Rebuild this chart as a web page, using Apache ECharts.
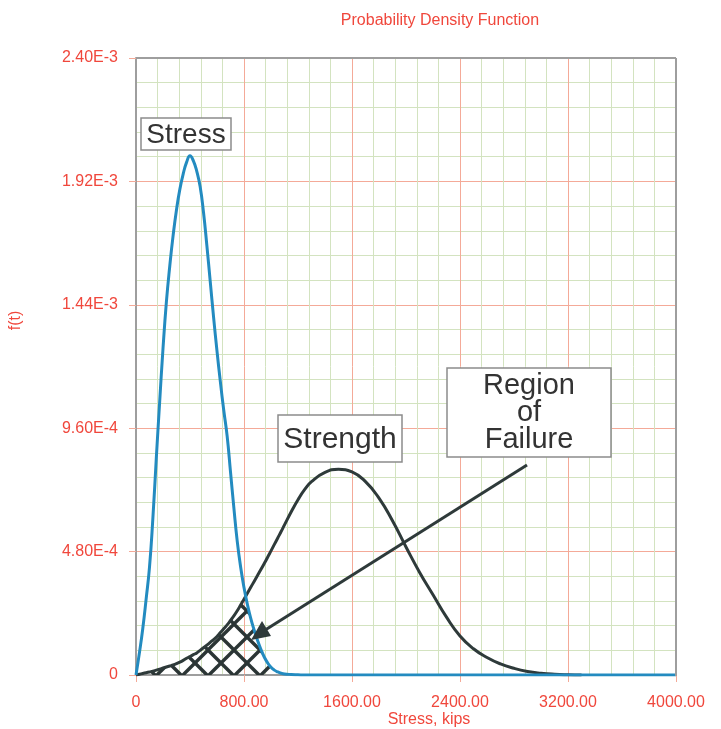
<!DOCTYPE html>
<html>
<head>
<meta charset="utf-8">
<script src="https://cdn.jsdelivr.net/npm/echarts@6/dist/echarts.min.js"></script>
<style>html,body{margin:0;padding:0;background:#fff}#c{width:721px;height:729px}</style>
</head>
<body>
<div id="c"></div>
<script>
// Shared x positions (Stress, kips)
const xValues = [0,25,50,75,100,125,150,175,200,225,250,275,300,325,350,375,400,425,450,475,500,525,550,575,600,625,650,675,700,725,750,775,800,825,850,875,900,925,950,975,1000,1025,1050,1075,1100,
  1150,1200,1250,1300,1400,1500,1600,1700,1800,1900,2000,2100,2200,2300,2400,2500,2600,2700,2800,2900,3000,3100,3200,3300,3400,3600,3800,4000];
// Stress pdf values (units of 1e-4)
const stressValues = [0,0.85,1.8,2.95,4.2,6.1,8.4,10.6,12.7,14.5,15.9,17.1,18.1,18.9,19.5,19.95,20.2,20.0,19.6,19.0,18.0,16.7,15.3,13.9,12.6,11.4,10.3,9.3,7.9,6.5,5.2,4.2,3.4,2.75,2.2,1.75,1.35,1.0,0.7,0.47,0.3,0.19,0.12,0.07,0.04,
  0.02,0.01,0,0,0,0,0,0,0,0,0,0,0,0,0,0,0,0,0,0,0,0,0,0,0,0,0,0];
// Strength pdf values (units of 1e-4); null = not drawn
const strengthValues = [0,0.03,0.06,0.09,0.12,0.15,0.19,0.23,0.27,0.31,0.35,0.39,0.44,0.50,0.57,0.65,0.72,0.79,0.86,0.96,1.06,1.16,1.27,1.38,1.50,1.65,1.80,1.95,2.12,2.30,2.50,2.72,2.95,3.18,3.41,3.64,3.87,4.10,4.34,4.58,4.83,5.08,5.33,5.58,5.84,
  6.35,6.82,7.22,7.52,7.88,8.00,7.90,7.52,6.88,6.00,4.98,4.00,3.12,2.25,1.52,1.02,0.68,0.43,0.26,0.14,0.07,0.03,0.01,0,null,null,null,null];
const failureMaxX = 1100;
const xTickLabels = ['0','800.00','1600.00','2400.00','3200.00','4000.00'];
const yTickLabels = ['0','4.80E-4','9.60E-4','1.44E-3','1.92E-3','2.40E-3'];
const SCALE = 1e-4;

const stressData = xValues.map((x,i)=>[x, stressValues[i]*SCALE]);
const strengthData = xValues.map((x,i)=> strengthValues[i]===null ? [x,null] : [x, strengthValues[i]*SCALE]);
const failureData = [];
xValues.forEach((x,i)=>{ if(x<=failureMaxX) failureData.push([x, Math.min(stressValues[i], strengthValues[i])*SCALE]); });

// crosshatch pattern
const tile = 26;
const cv = document.createElement('canvas');
cv.width = tile; cv.height = tile;
const cx = cv.getContext('2d');
cx.strokeStyle = '#2b3535'; cx.lineWidth = 3.4;
for (let k=-1;k<=1;k++){
  cx.beginPath(); cx.moveTo(k*tile,0); cx.lineTo(k*tile+tile,tile); cx.stroke();
  cx.beginPath(); cx.moveTo(k*tile+tile,0); cx.lineTo(k*tile,tile); cx.stroke();
}

const RED = '#f0473c';
const MAJOR = '#f4aa98';
const MINOR = '#d3e3c0';
const BORDER = '#9e9e9e';
const FONT = '"Liberation Sans", Arial, sans-serif';
const L = 136, T = 58, R = 676, B = 675;

const chart = echarts.init(document.getElementById('c'), null, {renderer:'canvas'});
chart.setOption({
  animation:false,
  backgroundColor:'#fff',
  title:{text:'Probability Density Function', left:435, top:8, textAlign:'center',
    textStyle:{color:RED, fontSize:16, fontWeight:'normal', fontFamily:FONT}},
  grid:{left:L, right:721-R, top:T, bottom:729-B, containLabel:false, outerBoundsMode:'none'},
  xAxis:{type:'value', min:0, max:4000, interval:800,
    name:'Stress, kips', nameLocation:'middle', nameGap:37, nameMoveOverlap:false,
    nameTextStyle:{color:RED, fontSize:16, fontFamily:FONT, padding:[0,0,0,46]},
    axisLine:{lineStyle:{color:BORDER, width:2}},
    axisTick:{show:true, length:7, lineStyle:{color:MAJOR}},
    axisLabel:{color:RED, fontSize:16, fontFamily:FONT, margin:20,
      formatter:v=>xTickLabels[Math.round(v/800)]},
    splitLine:{show:true, lineStyle:{color:MAJOR, width:1}},
    minorTick:{show:false, splitNumber:5},
    minorSplitLine:{show:true, lineStyle:{color:MINOR, width:1}}
  },
  yAxis:{type:'value', min:0, max:0.0024, interval:0.00048,
    name:'f(t)', nameLocation:'middle', nameGap:112, nameRotate:90, nameMoveOverlap:false,
    nameTextStyle:{color:RED, fontSize:16, fontFamily:FONT, padding:[0,0,0,92]},
    axisLine:{show:true, lineStyle:{color:BORDER, width:2}},
    axisTick:{show:true, length:7, lineStyle:{color:MAJOR}},
    axisLabel:{color:RED, fontSize:16, fontFamily:FONT, margin:18,
      formatter:v=>yTickLabels[Math.round(v/0.00048)]},
    splitLine:{show:true, lineStyle:{color:MAJOR, width:1}},
    minorTick:{show:false, splitNumber:5},
    minorSplitLine:{show:true, lineStyle:{color:MINOR, width:1}}
  },
  series:[
    {name:'Region of Failure', type:'line', data:failureData, smooth:0.5, showSymbol:false,
      lineStyle:{width:0, opacity:0}, areaStyle:{color:{image:cv, repeat:'repeat'}, opacity:1}, z:2},
    {name:'Strength', type:'line', data:strengthData, smooth:0.5, showSymbol:false, connectNulls:false,
      lineStyle:{color:'#2e3a3a', width:3}, z:3},
    {name:'Stress', type:'line', data:stressData, smooth:0.5, showSymbol:false,
      lineStyle:{color:'#238bc0', width:3}, z:4}
  ],
  graphic:[
    {type:'line', shape:{x1:L,y1:T,x2:R,y2:T}, style:{stroke:BORDER, lineWidth:2}, z:20},
    {type:'line', shape:{x1:R,y1:T,x2:R,y2:B+1}, style:{stroke:BORDER, lineWidth:2}, z:20},
    {type:'line', shape:{x1:527,y1:465,x2:262,y2:632}, style:{stroke:'#2e3a3a', lineWidth:3}, z:10},
    {type:'polygon', shape:{points:[[251,640],[262,621],[271,636]]}, style:{fill:'#2e3a3a'}, z:10},
    {type:'rect', shape:{x:141,y:118,width:90,height:32}, style:{fill:'#fff', stroke:'#8c8c8c', lineWidth:1.5}, z:11},
    {type:'text', x:186, y:135, style:{text:'Stress', font:'28px "Liberation Sans", Arial, sans-serif', fill:'#333', align:'center', verticalAlign:'middle'}, z:12},
    {type:'rect', shape:{x:278,y:415,width:124,height:47}, style:{fill:'#fff', stroke:'#8c8c8c', lineWidth:1.5}, z:11},
    {type:'text', x:340, y:440, style:{text:'Strength', font:'30px "Liberation Sans", Arial, sans-serif', fill:'#333', align:'center', verticalAlign:'middle'}, z:12},
    {type:'rect', shape:{x:447,y:368,width:164,height:89}, style:{fill:'#fff', stroke:'#8c8c8c', lineWidth:1.5}, z:11},
    {type:'text', x:529, y:413, style:{text:'Region\nof\nFailure', font:'29px "Liberation Sans", Arial, sans-serif', lineHeight:27, fill:'#333', align:'center', verticalAlign:'middle'}, z:12}
  ]
});
</script>
</body>
</html>
